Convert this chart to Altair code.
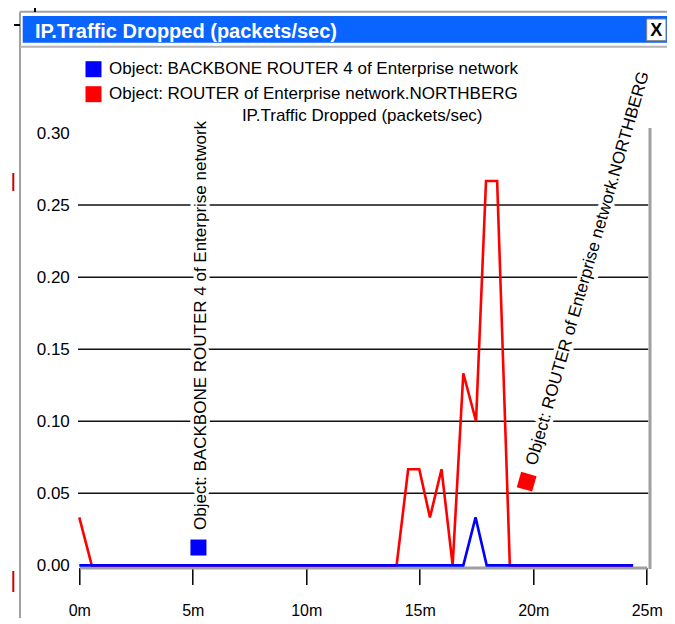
import altair as alt
import pandas as pd

# ---------------- data ----------------
series_names = [
    "Object: BACKBONE ROUTER 4 of Enterprise network",
    "Object: ROUTER of Enterprise network.NORTHBERG",
]
series_colors = ["#0000ff", "#ff0000"]

blue_t = [0, 16.92, 17.46, 17.95, 24.4]
blue_v = [0, 0, 0.0333, 0, 0]

red_t = [0, 0.55, 13.98, 14.49, 14.98, 15.45, 15.96, 16.45, 16.92, 17.48, 17.92, 18.41, 18.97, 24.4]
red_v = [0.0333, 0, 0, 0.0667, 0.0667, 0.0333, 0.0667, 0, 0.1333, 0.1, 0.2667, 0.2667, 0, 0]

x_ticks = [0, 5, 10, 15, 20, 25]
y_ticks = [0, 0.05, 0.10, 0.15, 0.20, 0.25, 0.30]
grid_vals = [0.05, 0.10, 0.15, 0.20, 0.25]

label_t = [5.25, 19.71]
label_v = [0.0124, 0.0581]

window_title = "IP.Traffic Dropped (packets/sec)"
y_title = "IP.Traffic Dropped (packets/sec)"

# ---------------- layout / style ----------------
FONT = "Liberation Sans"
W, H = 567.4, 432.4
PAD = {"left": 71.3, "top": 125, "right": 20.3, "bottom": 52.6}
GRAY = "#a0a0a0"
RIGHT = W + PAD["right"]

one = pd.DataFrame({"a": [0]})

xenc = alt.X(
    "t:Q",
    scale=alt.Scale(domain=[0, 25], nice=False, zero=False),
    axis=alt.Axis(
        values=x_ticks, labelExpr="datum.value + 'm'", title=None, grid=False,
        domainColor=GRAY, domainWidth=3, offset=2,
        tickColor="black", tickWidth=1.5, tickSize=17,
        labelFontSize=16, labelFont=FONT, labelColor="black", labelPadding=18,
        labelFlush=False,
    ),
)
yenc = alt.Y(
    "v:Q",
    scale=alt.Scale(domain=[0, 0.3], nice=False),
    axis=alt.Axis(
        values=y_ticks, format=".2f", grid=False, domain=False, ticks=False, tickSize=0,
        labelFontSize=17, labelFont=FONT, labelColor="black", labelPadding=10,
        title=y_title, titleAngle=0, titleX=282.4, titleY=-17.3, titleAlign="center",
        titleBaseline="middle", titleFontSize=17, titleFont=FONT, titleFontWeight="normal",
        titleColor="black",
    ),
)

# line colours: domain comes from the data (sorted), so its legend stays separate and hidden
stroke_enc = alt.Stroke("line_series:N", scale=alt.Scale(range=series_colors), legend=None)
color_enc = alt.Color(
    "series:N",
    scale=alt.Scale(domain=series_names, range=series_colors),
    legend=alt.Legend(
        title=None, orient="none", legendX=5.7, legendY=-72.3, symbolType="square",
        symbolSize=256, symbolStrokeWidth=0, labelFontSize=17, labelFont=FONT,
        labelColor="black", labelLimit=1000, labelOffset=7, rowPadding=7, padding=0,
    ),
)


def rule(x, x2, y, y2, color, width):
    return alt.Chart(one).mark_rule(color=color, strokeWidth=width).encode(
        x=alt.value(x), x2=alt.value(x2), y=alt.value(y), y2=alt.value(y2)
    )


# window chrome
chrome = [
    rule(-59.3, RIGHT, -121.3, -121.3, GRAY, 2),
    rule(-59.3, -59.3, -121.3, 500, GRAY, 2),
    alt.Chart(one).mark_rect(color="#0a64ff").encode(
        x=alt.value(-56.6), x2=alt.value(RIGHT), y=alt.value(-117), y2=alt.value(-90.3)
    ),
    rule(-59.3, RIGHT, -86.3, -86.3, "#b4b4b4", 2),
    alt.Chart(one).mark_rect(fill="white", stroke="#808080", strokeWidth=1).encode(
        x=alt.value(567.4), x2=alt.value(586.7), y=alt.value(-114), y2=alt.value(-92.3)
    ),
    alt.Chart(one).mark_text(text="X", font=FONT, fontSize=18, fontWeight="bold", color="black",
                             align="center", baseline="middle").encode(
        x=alt.value(577), y=alt.value(-102.5)
    ),
    alt.Chart(one).mark_text(text=window_title, font=FONT, fontSize=20, fontWeight="bold",
                             color="white", align="left", baseline="middle").encode(
        x=alt.value(-44.3), y=alt.value(-101.3)
    ),
    rule(-44.3, -44.3, -126, -121, "black", 2),
    rule(-65.3, -59.3, -108, -108, "black", 2),
    rule(-66, -66, 40, 58, "#d00000", 2),
    rule(-66, -66, 438, 459, "#d00000", 2),
]

grid = alt.Chart(pd.DataFrame({"v": grid_vals})).mark_rule(color="#111111", strokeWidth=1.5).encode(
    y=yenc, x=alt.value(-1.3), x2=alt.value(569)
)

right_border = rule(570.7, 570.7, -5, 436, GRAY, 3)

markers = pd.DataFrame({"t": label_t, "v": label_v, "series": series_names})
angles = [270, 286]
dys = [2.5, 0]

text_layers = []
for i, name in enumerate(series_names):
    base = alt.Chart(markers).transform_filter(alt.datum.series == name)
    common = dict(angle=angles[i], align="left", baseline="middle", dx=17.5, dy=dys[i],
                  fontSize=17, font=FONT)
    text_layers.append(base.mark_text(stroke="white", strokeWidth=7, color="white", **common)
                       .encode(x=xenc, y=yenc, text="series:N"))
    text_layers.append(base.mark_text(color="black", **common)
                       .encode(x=xenc, y=yenc, text="series:N"))

red_df = pd.DataFrame({"t": red_t, "v": red_v, "line_series": series_names[1]})
blue_df = pd.DataFrame({"t": blue_t, "v": blue_v, "line_series": series_names[0]})

red_line = alt.Chart(red_df).mark_line(strokeWidth=2.6).encode(x=xenc, y=yenc, stroke=stroke_enc)
blue_line = alt.Chart(blue_df).mark_line(strokeWidth=2.6).encode(x=xenc, y=yenc, stroke=stroke_enc)

marker_layers = []
for i, name in enumerate(series_names):
    marker_layers.append(
        alt.Chart(markers).transform_filter(alt.datum.series == name)
        .mark_point(shape="square", filled=True, size=256, opacity=1, angle=0 if i == 0 else 286)
        .encode(x=xenc, y=yenc, color=color_enc)
    )

chart = alt.layer(
    *chrome, grid, right_border, *text_layers, red_line, blue_line, *marker_layers
).properties(
    width=W, height=H, padding=PAD, autosize=alt.AutoSizeParams(type="none"), background="white"
).configure_view(stroke=None)

chart.save("out.html", embed_options={"renderer": "svg", "actions": False})
